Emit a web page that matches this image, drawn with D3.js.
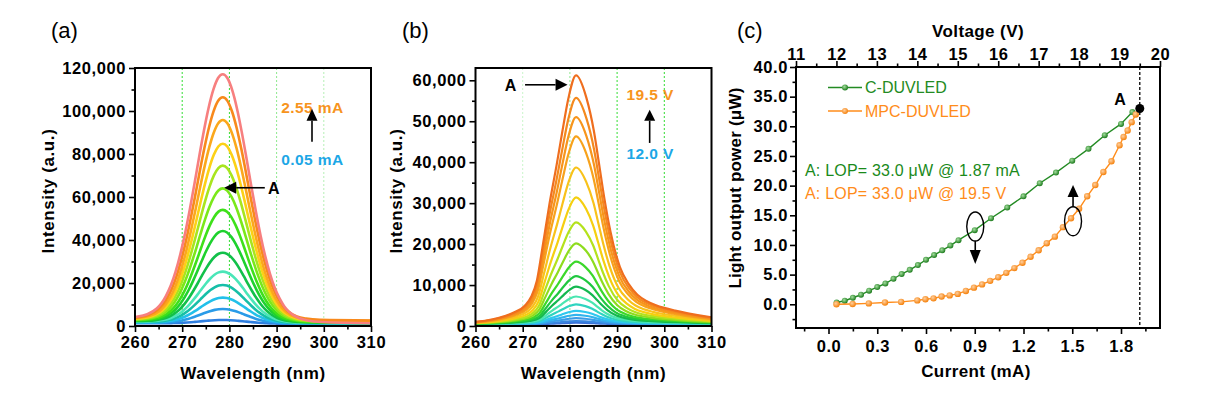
<!DOCTYPE html>
<html><head><meta charset="utf-8">
<script src="https://cdn.jsdelivr.net/npm/d3@7"></script>
<style>
body{margin:0;background:#fff}
svg{display:block}
text{font-family:Arial,"Liberation Sans",sans-serif}
</style>
</head><body>
<svg id="chart" width="1226" height="401"></svg>
<script>
// ---------------- DATA ----------------
const wavelengthTicks = [260,270,280,290,300,310];
const wavelengthMinor = [265,275,285,295,305];
const gridWavelengths = [270,280,290,300];
const intensityTicksA = [0,20000,40000,60000,80000,100000,120000];
const intensityMinorA = [10000,30000,50000,70000,90000,110000];
const intensityTicksB = [0,10000,20000,30000,40000,50000,60000];
const intensityMinorB = [5000,15000,25000,35000,45000,55000];

// (a) EL spectra vs current 0.05 -> 2.55 mA (peak intensity, a.u.)
const centerA = 278.6;
const peakA = [2800,7900,13200,19100,25300,34100,44200,54000,64000,74600,84800,95800,106400,117100];
const widthA = [0.84,0.85,0.86,0.87,0.88,0.89,0.9,0.91,0.93,0.94,0.95,0.96,0.98,1.0];
const baseLeftA = [1300,1500,1700,1900,2100,2300,2500,2700,2900,3100,3300,3500,3700,3900];
const baseRightA = [900,1000,1100,1200,1300,1400,1500,1600,1800,2000,2200,2400,2600,1300];
const colorA = ["#2f7fe0","#2a9be8","#22c0ea","#16bfa8","#4ae6b8","#12c04a","#1ed12e","#3ee01a","#7ae81a","#a8e51e","#fcd116","#fba81c","#f8891c","#f77f7f"];
// normalized line shape (offset from peak in nm)
const profileOffsetA = [-21,-18,-16,-14,-13,-12,-11,-10,-9,-8,-7,-6,-5,-4,-3,-2,-1,0,1,2,3,4,5,6,7,8,9,10,11,12,13,14,16,18,21,33];
const profileValueA  = [0,0.005,0.015,0.039,0.061,0.093,0.135,0.191,0.262,0.347,0.445,0.551,0.662,0.768,0.862,0.936,0.984,1,0.984,0.936,0.862,0.768,0.662,0.551,0.445,0.347,0.262,0.191,0.135,0.093,0.061,0.039,0.015,0.005,0,0];

// (b) EL spectra vs voltage 12.0 -> 19.5 V
const centerB = 281.3;
const peakB = [800,1200,1900,2700,3700,5300,7200,9600,12200,15700,20200,25300,31400,38700,46300,51000,55700,61200];
const widthB = [0.85,0.86,0.87,0.88,0.89,0.9,0.9,0.91,0.92,0.93,0.94,0.95,0.96,0.97,0.98,0.99,1.0,1.0];
const baseLeftB = [400,420,450,480,500,520,550,580,600,620,650,680,700,720,750,770,790,800];
const baseRightB = [400,420,450,480,500,520,550,580,600,620,650,680,700,720,750,770,790,800];
const colorB = ["#3a6fd8","#3a86e0","#3a9ce8","#30b4ee","#2ec8ee","#2fd4c0","#4ae6b0","#14b850","#20c840","#3cd82a","#8edc1e","#b4e21c","#f5cf10","#f8c21a","#f7a21c","#f7951c","#f4891e","#ef6e1e"];
const profileOffsetB = [-22,-19.3,-16.3,-13.3,-10.8,-9.5,-8.3,-7.0,-5.6,-4.1,-2.9,-1.6,0,2.2,3.8,4.9,6.0,7.3,9.3,11.2,13.0,14.9,16.8,18.7,21.0,23.7,28.7,34];
const profileValueB  = [0.002,0.008,0.02,0.04,0.07,0.105,0.17,0.318,0.483,0.639,0.773,0.909,1,0.909,0.773,0.639,0.503,0.368,0.225,0.155,0.113,0.088,0.072,0.06,0.049,0.038,0.022,0.01];

// (c) light output power
const currentC = [0.05,0.10,0.15,0.20,0.25,0.30,0.35,0.40,0.45,0.50,0.55,0.60,0.65,0.70,0.75,0.80,0.90,1.00,1.10,1.20,1.30,1.40,1.50,1.60,1.70,1.80,1.87];
const lopC = [0.3,0.6,1.1,1.6,2.3,2.9,3.5,4.3,5.1,5.8,6.6,7.5,8.3,9.1,9.9,10.8,12.5,14.5,16.3,18.2,20.4,22.2,24.2,26.2,28.5,30.4,32.4];
const voltageM = [12.0,12.4,12.8,13.2,13.6,14.0,14.2,14.4,14.6,14.8,15.0,15.2,15.4,15.6,15.8,16.0,16.2,16.4,16.6,16.8,17.0,17.2,17.4,17.6,17.8,18.0,18.2,18.4,18.6,18.8,19.0,19.1,19.2,19.3,19.4];
const lopM = [0.0,0.05,0.15,0.3,0.4,0.65,0.85,1.0,1.3,1.5,1.75,2.25,2.8,3.35,3.95,4.55,5.3,6.1,7.0,8.0,9.1,10.3,11.4,13.0,14.5,16.1,18.2,20.1,22.3,24.1,26.8,28.2,29.3,30.7,32.0];
const pointA = {voltage:19.5, lop:33.0};
const currentTicks = [0,0.3,0.6,0.9,1.2,1.5,1.8];
const currentMinor = [-0.15,0.15,0.45,0.75,1.05,1.35,1.65,1.95];
const voltageTicks = [11,12,13,14,15,16,17,18,19,20];
const voltageMinor = [11.5,12.5,13.5,14.5,15.5,16.5,17.5,18.5,19.5];
const lopTicks = [0,5,10,15,20,25,30,35,40];
const lopMinor = [-2.5,2.5,7.5,12.5,17.5,22.5,27.5,32.5,37.5];
const seriesNames = ["C-DUVLED","MPC-DUVLED"];

// ---------------- DRAW ----------------
const svg = d3.select("#chart");
const FONT_TICK = "16.5px", FONT_TITLE = "17px";
const defs = svg.append("defs");

function styleTicks(g, size){
  g.select(".domain").remove();
  g.selectAll(".tick line").attr("stroke","#000").attr("stroke-width",1.6);
  g.selectAll(".tick text").attr("fill","#000").attr("font-weight","bold")
    .attr("font-size",size||FONT_TICK).attr("letter-spacing","0.6px")
    .attr("font-family",'Arial,"Liberation Sans",sans-serif');
}
function axis(g, gen, vals, fmt, size, pad){
  g.call(gen.tickValues(vals).tickSize(6).tickPadding(pad==null?3:pad).tickFormat(fmt));
  styleTicks(g);
}
function minorAxis(g, gen, vals){
  g.call(gen.tickValues(vals).tickSize(3.5).tickFormat(""));
  styleTicks(g);
}

function spectrumPanel(opt){
  const x = d3.scaleLinear().domain([260,310]).range([opt.x0,opt.x1]);
  const y = d3.scaleLinear().domain([0,opt.ymax]).range([326,68]);
  const clipId = "clip"+opt.id;
  defs.append("clipPath").attr("id",clipId).append("rect")
    .attr("x",opt.x0).attr("y",68).attr("width",opt.x1-opt.x0).attr("height",258);
  const g = svg.append("g");
  g.selectAll("line.grid").data(gridWavelengths).enter().append("line")
    .attr("x1",d=>x(d)).attr("x2",d=>x(d)).attr("y1",68).attr("y2",326)
    .attr("stroke",(d,i)=>opt.gridColors[i]).attr("stroke-width",1).attr("stroke-dasharray","2,2");
  const line = d3.line().x(d=>x(d[0])).y(d=>y(d[1])).curve(d3.curveMonotoneX);
  const curves = opt.peaks.map((pk,i)=>{
    const base = w => opt.baseL[i] + (opt.baseR[i]-opt.baseL[i])*(w-260)/50;
    const amp = pk - base(opt.center);
    const pts = opt.offsets.map((o,k)=>{
      const w = opt.center + o*opt.widths[i];
      return [w, base(w) + amp*opt.values[k]];
    });
    if (pts[0][0] > 260) pts.unshift([260, base(260)]);
    if (pts[pts.length-1][0] < 310) pts.push([310, base(310)]);
    return {pts, color:opt.colors[i]};
  });
  g.append("g").attr("clip-path",`url(#${clipId})`).selectAll("path").data(curves).enter().append("path")
    .attr("d",d=>line(d.pts)).attr("fill","none").attr("stroke",d=>d.color)
    .attr("stroke-width",opt.lw).attr("stroke-linejoin","round");
  g.append("rect").attr("x",opt.x0).attr("y",68).attr("width",opt.x1-opt.x0).attr("height",258)
    .attr("fill","none").attr("stroke","#000").attr("stroke-width",2);
  axis(g.append("g").attr("transform","translate(0,326)"), d3.axisBottom(x), wavelengthTicks, d3.format("d"), null, 4);
  minorAxis(g.append("g").attr("transform","translate(0,326)"), d3.axisBottom(x), wavelengthMinor);
  axis(g.append("g").attr("transform",`translate(${opt.x0},0)`), d3.axisLeft(y), opt.yTicks, d3.format(","));
  minorAxis(g.append("g").attr("transform",`translate(${opt.x0},0)`), d3.axisLeft(y), opt.yMinor);
  g.append("text").attr("x",(opt.x0+opt.x1)/2).attr("y",379).attr("text-anchor","middle")
    .attr("font-weight","bold").attr("font-size",FONT_TITLE).attr("letter-spacing","0.6px").text("Wavelength (nm)");
  g.append("text").attr("transform",`translate(${opt.ytx},191) rotate(-90)`).attr("text-anchor","middle")
    .attr("dy","0.35em").attr("font-weight","bold").attr("font-size",FONT_TITLE).attr("letter-spacing","0.6px")
    .text("Intensity (a.u.)");
  g.append("text").attr("x",opt.labelX).attr("y",38).attr("font-size","22px").text(opt.label);
  return {g,x,y};
}

function arrow(g, x1,y1,x2,y2, head, half){
  const ang = Math.atan2(y2-y1,x2-x1);
  const bx = x2 - head*Math.cos(ang), by = y2 - head*Math.sin(ang);
  g.append("line").attr("x1",x1).attr("y1",y1).attr("x2",bx).attr("y2",by).attr("stroke","#000").attr("stroke-width",1.6);
  const px = -Math.sin(ang)*half, py = Math.cos(ang)*half;
  g.append("path").attr("d",`M${x2},${y2}L${bx+px},${by+py}L${bx-px},${by-py}Z`).attr("fill","#000");
}

// ---- panel (a)
const pa = spectrumPanel({id:"a",x0:135,x1:371,ymax:120000,yTicks:intensityTicksA,yMinor:intensityMinorA,
  peaks:peakA,widths:widthA,baseL:baseLeftA,baseR:baseRightA,colors:colorA,center:centerA,
  offsets:profileOffsetA,values:profileValueA,lw:2.6,ytx:48,labelX:51,label:"(a)",
  gridColors:["#33dd33","#33dd33","#8ee88e","#b5efb5"]});
pa.g.append("text").attr("x",pa.x(297.6)).attr("y",pa.y(99000)).attr("text-anchor","middle")
  .attr("font-weight","bold").attr("font-size","15.5px").attr("letter-spacing","0.4px").attr("fill","#f7941d").text("2.55 mA");
pa.g.append("text").attr("x",pa.x(297.6)).attr("y",pa.y(75000)).attr("text-anchor","middle")
  .attr("font-weight","bold").attr("font-size","15.5px").attr("letter-spacing","0.4px").attr("fill","#1ca7e6").text("0.05 mA");
arrow(pa.g, pa.x(297.5), pa.y(85700), pa.x(297.5), pa.y(101000), 12, 5.5);
arrow(pa.g, pa.x(287.5), pa.y(64300), pa.x(278.9), pa.y(64300), 12, 6);
pa.g.append("text").attr("x",pa.x(288.2)).attr("y",pa.y(64300)).attr("dy","0.36em")
  .attr("font-weight","bold").attr("font-size","16px").text("A");

// ---- panel (b)
const pb = spectrumPanel({id:"b",x0:475.5,x1:711.5,ymax:63000,yTicks:intensityTicksB,yMinor:intensityMinorB,
  peaks:peakB,widths:widthB,baseL:baseLeftB,baseR:baseRightB,colors:colorB,center:centerB,
  offsets:profileOffsetB,values:profileValueB,lw:2.2,ytx:396,labelX:402,label:"(b)",
  gridColors:["#c9f5c9","#8ee88e","#33dd33","#33dd33"]});
pb.g.append("text").attr("x",pb.x(297.0)).attr("y",pb.y(55300)).attr("text-anchor","middle")
  .attr("font-weight","bold").attr("font-size","15.5px").attr("letter-spacing","0.4px").attr("fill","#f7941d").text("19.5 V");
pb.g.append("text").attr("x",pb.x(297.0)).attr("y",pb.y(40700)).attr("text-anchor","middle")
  .attr("font-weight","bold").attr("font-size","15.5px").attr("letter-spacing","0.4px").attr("fill","#1ca7e6").text("12.0 V");
arrow(pb.g, pb.x(296.9), pb.y(44700), pb.x(296.9), pb.y(52800), 11, 5.5);
arrow(pb.g, pb.x(270.5), pb.y(58900), pb.x(279.5), pb.y(58900), 12, 6);
pb.g.append("text").attr("x",pb.x(267.4)).attr("y",pb.y(58900)).attr("dy","0.36em").attr("text-anchor","middle")
  .attr("font-weight","bold").attr("font-size","16px").text("A");

// ---- panel (c)
const c = svg.append("g");
const X0=796, X1=1160, Y0=328, Y1=67;
const xI = d3.scaleLinear().domain([-0.2,2.04]).range([X0,X1]);
const xV = d3.scaleLinear().domain([11,20]).range([X0,X1]);
const yL = d3.scaleLinear().domain([-4,40]).range([Y0,Y1]);

function grad(id, light, dark){
  const gr = defs.append("radialGradient").attr("id",id).attr("cx","40%").attr("cy","38%").attr("r","60%");
  gr.append("stop").attr("offset","0%").attr("stop-color",light);
  gr.append("stop").attr("offset","100%").attr("stop-color",dark);
}
grad("gGreen","#a6e0a0","#1f7d1f");
grad("gOrange","#ffd0a0","#f5830f");
const green = "#238b23", orange = "#ff8c1a";

c.append("line").attr("x1",xV(pointA.voltage)).attr("x2",xV(pointA.voltage)).attr("y1",Y1).attr("y2",Y0)
  .attr("stroke","#000").attr("stroke-width",1.3).attr("stroke-dasharray","3,2");

const lineC = d3.line().x((d,i)=>xI(currentC[i])).y(d=>yL(d));
c.append("path").attr("d",lineC(lopC)).attr("fill","none").attr("stroke",green).attr("stroke-width",1.4);
c.selectAll("circle.g").data(lopC).enter().append("circle")
  .attr("cx",(d,i)=>xI(currentC[i])).attr("cy",d=>yL(d)).attr("r",3).attr("fill","url(#gGreen)");
const lineM = d3.line().x((d,i)=>xV(voltageM[i])).y(d=>yL(d));
c.append("path").attr("d",lineM(lopM)).attr("fill","none").attr("stroke",orange).attr("stroke-width",1.4);
c.selectAll("circle.o").data(lopM).enter().append("circle")
  .attr("cx",(d,i)=>xV(voltageM[i])).attr("cy",d=>yL(d)).attr("r",3.2).attr("fill","url(#gOrange)");
c.append("circle").attr("cx",xV(pointA.voltage)).attr("cy",yL(pointA.lop)).attr("r",4.5).attr("fill","#000");
c.append("text").attr("x",xV(pointA.voltage)-14).attr("y",yL(pointA.lop)-4).attr("text-anchor","end")
  .attr("font-weight","bold").attr("font-size","16px").text("A");

c.append("rect").attr("x",X0).attr("y",Y1).attr("width",X1-X0).attr("height",Y0-Y1)
  .attr("fill","none").attr("stroke","#000").attr("stroke-width",2);
axis(c.append("g").attr("transform",`translate(0,${Y0})`), d3.axisBottom(xI), currentTicks, d3.format(".1f"), null, 6);
minorAxis(c.append("g").attr("transform",`translate(0,${Y0})`), d3.axisBottom(xI), currentMinor);
axis(c.append("g").attr("transform",`translate(0,${Y1})`), d3.axisTop(xV), voltageTicks, d3.format("d"), null, 1);
minorAxis(c.append("g").attr("transform",`translate(0,${Y1})`), d3.axisTop(xV), voltageMinor);
axis(c.append("g").attr("transform",`translate(${X0},0)`), d3.axisLeft(yL), lopTicks, d3.format(".1f"), null, 2);
minorAxis(c.append("g").attr("transform",`translate(${X0},0)`), d3.axisLeft(yL), lopMinor);

c.append("text").attr("x",(X0+X1)/2-2).attr("y",377).attr("text-anchor","middle")
  .attr("font-weight","bold").attr("font-size",FONT_TITLE).attr("letter-spacing","0.4px").text("Current (mA)");
c.append("text").attr("x",(X0+X1)/2).attr("y",37).attr("text-anchor","middle")
  .attr("font-weight","bold").attr("font-size",FONT_TITLE).attr("letter-spacing","0.4px").text("Voltage (V)");
c.append("text").attr("transform",`translate(735,188) rotate(-90)`).attr("text-anchor","middle").attr("dy","0.35em")
  .attr("font-weight","bold").attr("font-size",FONT_TITLE).attr("letter-spacing","0.2px").text("Light output power (\u03bcW)");
c.append("text").attr("x",737).attr("y",38).attr("font-size","22px").text("(c)");

[[green,"gGreen",seriesNames[0],87.5],[orange,"gOrange",seriesNames[1],111]].forEach(([col,gid,name,yy])=>{
  c.append("line").attr("x1",828).attr("x2",862).attr("y1",yy).attr("y2",yy).attr("stroke",col).attr("stroke-width",1.6);
  c.append("circle").attr("cx",845).attr("cy",yy).attr("r",3).attr("fill",`url(#${gid})`);
  c.append("text").attr("x",865).attr("y",yy).attr("dy","0.36em").attr("font-size","16px").attr("fill",col).text(name);
});
c.append("text").attr("x",805).attr("y",176).attr("font-size","16px").attr("letter-spacing","0.2px").attr("fill","#1a8a1a")
  .text("A: LOP= 33.0 \u03bcW @ 1.87 mA");
c.append("text").attr("x",805).attr("y",199).attr("font-size","16px").attr("letter-spacing","0.2px").attr("fill",orange)
  .text("A: LOP= 33.0 \u03bcW @ 19.5 V");

c.append("ellipse").attr("cx",xI(0.9)+0.5).attr("cy",yL(13.1)).attr("rx",8.5).attr("ry",14.5)
  .attr("fill","none").attr("stroke","#000").attr("stroke-width",1.4);
arrow(c, xI(0.9)+0.5, yL(13.1)+14.5, xI(0.9)+0.5, 264, 14, 5.5);
c.append("ellipse").attr("cx",xV(17.85)).attr("cy",yL(14.0)).attr("rx",8.5).attr("ry",14.5)
  .attr("fill","none").attr("stroke","#000").attr("stroke-width",1.4);
arrow(c, xV(17.85), yL(14.0)-14.5, xV(17.85), 185, 12, 5.5);
</script>
</body></html>
